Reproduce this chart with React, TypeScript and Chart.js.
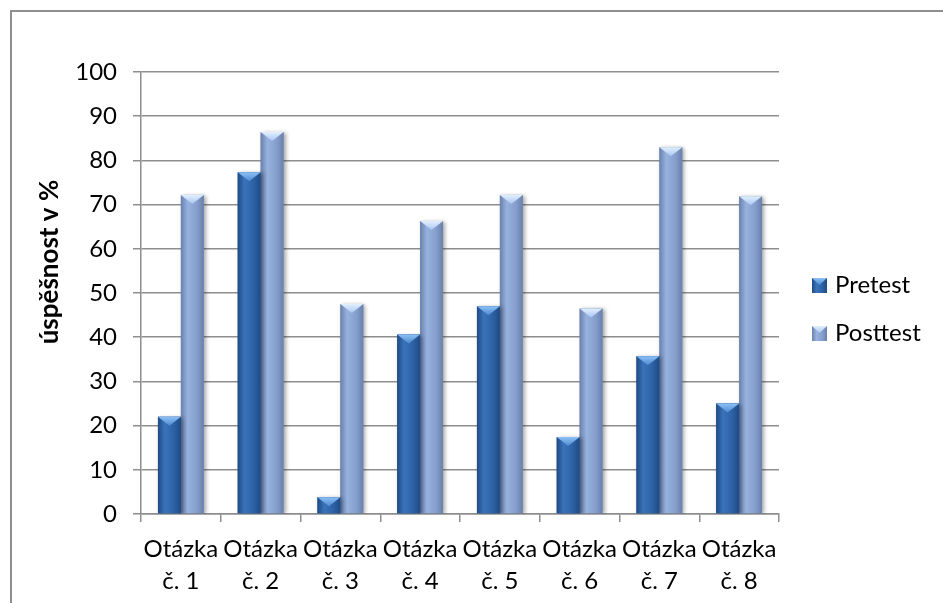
import React, { useEffect, useRef } from "react";
import { Chart, registerables } from "chart.js";

Chart.register(...registerables);

// Question labels (two lines each) and success rates in percent
const categories: string[][] = [
  ["Otázka", "č. 1"],
  ["Otázka", "č. 2"],
  ["Otázka", "č. 3"],
  ["Otázka", "č. 4"],
  ["Otázka", "č. 5"],
  ["Otázka", "č. 6"],
  ["Otázka", "č. 7"],
  ["Otázka", "č. 8"],
];
const pretest = [22, 77.3, 3.8, 40.6, 47, 17.4, 35.7, 25];
const posttest = [72.2, 86.4, 47.5, 66.3, 72.2, 46.5, 83, 71.9];
const seriesNames = ["Pretest", "Posttest"];
const yMin = 0;
const yMax = 100;
const yStep = 10;
const yTitle = "úspěšnost v %";

const FONT = "Lato, 'Open Sans', sans-serif";
const AXIS_GRAY = "#8e8e8e";

// Shading for each series: body gradient plus the light bevelled cap
const palettes = [
  { base: "#2d61a4", mid: "#3a73bb", edge: "#1f4a84", capTop: "#8cc0f5", capBottom: "#4f8ad0" },
  { base: "#859ecc", mid: "#97b2df", edge: "#6a80ab", capTop: "#e2f0ff", capBottom: "#a9c6ef" },
];

function drawBevelBox(
  ctx: CanvasRenderingContext2D,
  pal: (typeof palettes)[number],
  left: number,
  top: number,
  width: number,
  height: number,
  capH: number
) {
  const g = ctx.createLinearGradient(left, 0, left + width, 0);
  g.addColorStop(0, pal.edge);
  g.addColorStop(0.3, pal.mid);
  g.addColorStop(0.7, pal.base);
  g.addColorStop(1, pal.edge);
  ctx.fillStyle = g;
  ctx.fillRect(left, top, width, height);

  const h = Math.min(capH, height);
  if (h > 0) {
    const cg = ctx.createLinearGradient(0, top, 0, top + h);
    cg.addColorStop(0, pal.capTop);
    cg.addColorStop(1, pal.capBottom);
    ctx.fillStyle = cg;
    ctx.beginPath();
    ctx.moveTo(left, top);
    ctx.lineTo(left + width, top);
    ctx.lineTo(left + width / 2, top + h);
    ctx.closePath();
    ctx.fill();
  }
}

const bevelBars = {
  id: "bevelBars",
  beforeDatasetDraw(chart: any) {
    const ctx = chart.ctx as CanvasRenderingContext2D;
    ctx.save();
    ctx.shadowColor = "rgba(0,0,0,0.35)";
    ctx.shadowBlur = 4;
    ctx.shadowOffsetX = 2;
    ctx.shadowOffsetY = 1;
  },
  afterDatasetDraw(chart: any, args: any) {
    const ctx = chart.ctx as CanvasRenderingContext2D;
    ctx.restore();
    const pal = palettes[args.index % palettes.length];
    args.meta.data.forEach((el: any) => {
      const { x, y, base, width } = el.getProps(["x", "y", "base", "width"], true);
      ctx.save();
      drawBevelBox(ctx, pal, x - width / 2, y, width, base - y, 9);
      ctx.restore();
    });
  },
};

// Vertical axis title, placed a little above the middle of the value axis
const axisTitle = {
  id: "axisTitle",
  afterDraw(chart: any) {
    const ctx = chart.ctx as CanvasRenderingContext2D;
    const { top, bottom } = chart.chartArea;
    const cy = top + (bottom - top) * 0.43;
    ctx.save();
    ctx.translate(50, cy);
    ctx.rotate(-Math.PI / 2);
    ctx.fillStyle = "#000";
    ctx.font = `bold 26px ${FONT}`;
    ctx.textAlign = "center";
    ctx.textBaseline = "middle";
    ctx.fillText(yTitle, 0, 0);
    ctx.restore();
  },
};

const sideLegend = {
  id: "sideLegend",
  afterDraw(chart: any) {
    const ctx = chart.ctx as CanvasRenderingContext2D;
    const x = chart.chartArea.right + 33;
    const y0 = chart.height / 2 - 16;
    chart.data.datasets.forEach((ds: any, i: number) => {
      const cy = y0 + i * 48;
      ctx.save();
      drawBevelBox(ctx, palettes[i], x, cy - 7.5, 15, 15, 7);
      ctx.fillStyle = "#000";
      ctx.font = `24px ${FONT}`;
      ctx.textAlign = "left";
      ctx.textBaseline = "middle";
      ctx.fillText(ds.label, x + 23, cy);
      ctx.restore();
    });
  },
};

export default function App() {
  const canvasRef = useRef<HTMLCanvasElement | null>(null);

  useEffect(() => {
    document.body.style.margin = "0";
    const canvas = canvasRef.current;
    if (!canvas) return;
    const chart = new Chart(canvas, {
      type: "bar",
      data: {
        labels: categories,
        datasets: [
          {
            label: seriesNames[0],
            data: pretest,
            backgroundColor: palettes[0].base,
            categoryPercentage: 0.575,
            barPercentage: 1,
          },
          {
            label: seriesNames[1],
            data: posttest,
            backgroundColor: palettes[1].base,
            categoryPercentage: 0.575,
            barPercentage: 1,
          },
        ],
      },
      options: {
        responsive: false,
        animation: false,
        devicePixelRatio: 1,
        layout: { padding: { top: 72, right: 164, bottom: 0, left: 0 } },
        plugins: {
          legend: { display: false },
          tooltip: { enabled: false },
        },
        scales: {
          x: {
            type: "category",
            offset: true,
            afterFit: (s: any) => {
              s.height = 89;
            },
            grid: {
              offset: true,
              drawOnChartArea: false,
              drawTicks: true,
              tickLength: 8,
              color: AXIS_GRAY,
              lineWidth: 1.5,
            },
            border: { display: true, color: AXIS_GRAY, width: 1.5 },
            ticks: {
              color: "#000",
              font: { family: FONT, size: 24, lineHeight: 1.35 },
              maxRotation: 0,
              minRotation: 0,
              autoSkip: false,
              padding: 11,
            },
          },
          y: {
            min: yMin,
            max: yMax,
            afterFit: (s: any) => {
              s.width = 141;
            },
            grid: {
              color: AXIS_GRAY,
              lineWidth: 1.5,
              drawTicks: true,
              tickLength: 8,
            },
            border: { display: true, color: AXIS_GRAY, width: 1.5 },
            ticks: {
              stepSize: yStep,
              color: "#000",
              font: { family: FONT, size: 24 },
              padding: 16,
            },
          },
        },
      },
      plugins: [bevelBars, axisTitle, sideLegend],
    });
    return () => chart.destroy();
  }, []);

  return (
    <div style={{ position: "relative", width: 943, height: 603, overflow: "hidden", background: "#fff" }}>
      <div
        style={{
          position: "absolute",
          left: 10,
          top: 10,
          width: 960,
          height: 620,
          borderLeft: "2px solid #8f8f8f",
          borderTop: "2px solid #8f8f8f",
          boxSizing: "border-box",
        }}
      />
      <canvas ref={canvasRef} width={943} height={603} style={{ position: "absolute", left: 0, top: 0 }} />
    </div>
  );
}
